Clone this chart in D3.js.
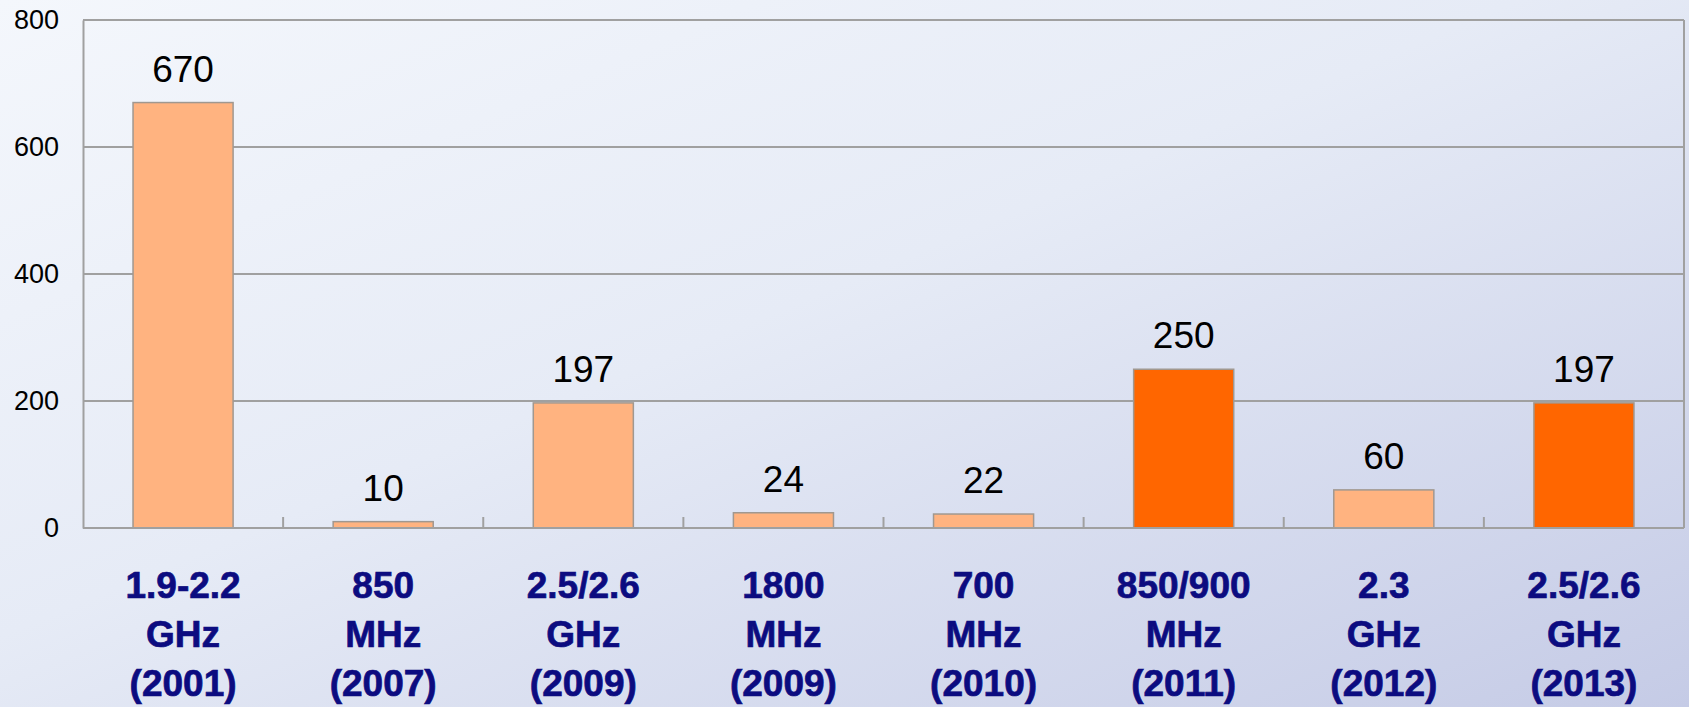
<!DOCTYPE html>
<html lang="en">
<head>
<meta charset="utf-8">
<title>Spectrum bar chart</title>
<script src="https://d3js.org/d3.v7.min.js"></script>
<style>
    body { margin: 0; overflow: hidden; }
    svg { display: block; font-family: "Liberation Sans", Arial, sans-serif; }
</style>
</head>
<body>
<div id="chart_div"></div>
<script>
"use strict";
// data
var bands = ["1.9-2.2", "850", "2.5/2.6", "1800", "700", "850/900", "2.3", "2.5/2.6"];
var units = ["GHz", "MHz", "GHz", "MHz", "MHz", "MHz", "GHz", "GHz"];
var years = ["(2001)", "(2007)", "(2009)", "(2009)", "(2010)", "(2011)", "(2012)", "(2013)"];
var values = [670, 10, 197, 24, 22, 250, 60, 197];
var highlight = [false, false, false, false, false, true, false, true];
var yTicks = [0, 200, 400, 600, 800];

var svg_width = 1689;
var svg_height = 707;
var plot_left = 83, plot_right = 1684, plot_top = 20, plot_bottom = 528;

var svg = d3.select("#chart_div").append("svg")
    .attr("width", svg_width)
    .attr("height", svg_height);

var defs = svg.append("defs");
var grad = defs.append("linearGradient")
    .attr("id", "bg")
    .attr("x1", "0%").attr("y1", "0%")
    .attr("x2", "100%").attr("y2", "100%");
grad.append("stop").attr("offset", "0%").attr("stop-color", "#f4f7fc");
grad.append("stop").attr("offset", "45%").attr("stop-color", "#e6ebf6");
grad.append("stop").attr("offset", "100%").attr("stop-color", "#c5cbe6");

svg.append("rect")
    .attr("width", svg_width)
    .attr("height", svg_height)
    .attr("fill", "url(#bg)");

var cats = d3.range(values.length);
var xscale = d3.scaleBand()
    .domain(cats)
    .range([plot_left, plot_right])
    .paddingInner(0)
    .paddingOuter(0);
var yscale = d3.scaleLinear()
    .domain([0, 800])
    .range([plot_bottom, plot_top]);

// gridlines
svg.append("g")
    .selectAll("line")
    .data(yTicks.slice(1))
    .enter()
    .append("line")
    .attr("x1", plot_left)
    .attr("x2", plot_right)
    .attr("y1", function(d) { return yscale(d); })
    .attr("y2", function(d) { return yscale(d); })
    .attr("stroke", "#a0a0a0")
    .attr("stroke-width", 2);

// right border
svg.append("line")
    .attr("x1", plot_right).attr("x2", plot_right)
    .attr("y1", plot_top).attr("y2", plot_bottom)
    .attr("stroke", "#a0a0a0")
    .attr("stroke-width", 2);

// y axis
var yaxis = d3.axisLeft(yscale).tickValues(yTicks).tickSize(0).tickPadding(24);
var gy = svg.append("g")
    .attr("transform", "translate(" + plot_left + ",0)")
    .call(yaxis);
gy.select(".domain").attr("stroke", "#a0a0a0").attr("stroke-width", 2);
gy.selectAll("text")
    .attr("font-size", 27)
    .attr("fill", "#000")
    .attr("font-family", "Liberation Sans, Arial, sans-serif");

// bars
svg.append("g")
    .selectAll("rect")
    .data(values)
    .enter()
    .append("rect")
    .attr("x", function(d, i) { return xscale(i) + xscale.bandwidth() * 0.25; })
    .attr("y", function(d) { return yscale(d); })
    .attr("width", xscale.bandwidth() * 0.5)
    .attr("height", function(d) { return plot_bottom - yscale(d); })
    .attr("fill", function(d, i) { return highlight[i] ? "#ff6600" : "#ffb380"; })
    .attr("stroke", "#a09890")
    .attr("stroke-width", 1.5);

// x axis line with inward ticks at category boundaries
svg.append("line")
    .attr("x1", plot_left).attr("x2", plot_right)
    .attr("y1", plot_bottom).attr("y2", plot_bottom)
    .attr("stroke", "#a0a0a0")
    .attr("stroke-width", 2);
svg.append("g")
    .selectAll("line")
    .data(cats.slice(1))
    .enter()
    .append("line")
    .attr("x1", function(d) { return xscale(d); })
    .attr("x2", function(d) { return xscale(d); })
    .attr("y1", plot_bottom)
    .attr("y2", plot_bottom - 11)
    .attr("stroke", "#a0a0a0")
    .attr("stroke-width", 2);

// value labels
svg.append("g")
    .selectAll("text")
    .data(values)
    .enter()
    .append("text")
    .attr("x", function(d, i) { return xscale(i) + xscale.bandwidth() / 2; })
    .attr("y", function(d) { return yscale(d) - 21; })
    .attr("text-anchor", "middle")
    .attr("font-size", 37)
    .attr("fill", "#000")
    .text(function(d) { return d; });

// category labels
var lab = svg.append("g")
    .selectAll("text")
    .data(cats)
    .enter()
    .append("text")
    .attr("x", function(d) { return xscale(d) + xscale.bandwidth() / 2; })
    .attr("y", 598)
    .attr("text-anchor", "middle")
    .attr("font-size", 37)
    .attr("font-weight", "bold")
    .attr("fill", "#0c0c80")
    .attr("stroke", "#0c0c80")
    .attr("stroke-width", 0.7);
lab.append("tspan")
    .attr("x", function(d) { return xscale(d) + xscale.bandwidth() / 2; })
    .text(function(d) { return bands[d]; });
lab.append("tspan")
    .attr("x", function(d) { return xscale(d) + xscale.bandwidth() / 2; })
    .attr("dy", 49)
    .text(function(d) { return units[d]; });
lab.append("tspan")
    .attr("x", function(d) { return xscale(d) + xscale.bandwidth() / 2; })
    .attr("dy", 49)
    .text(function(d) { return years[d]; });
</script>
</body>
</html>
